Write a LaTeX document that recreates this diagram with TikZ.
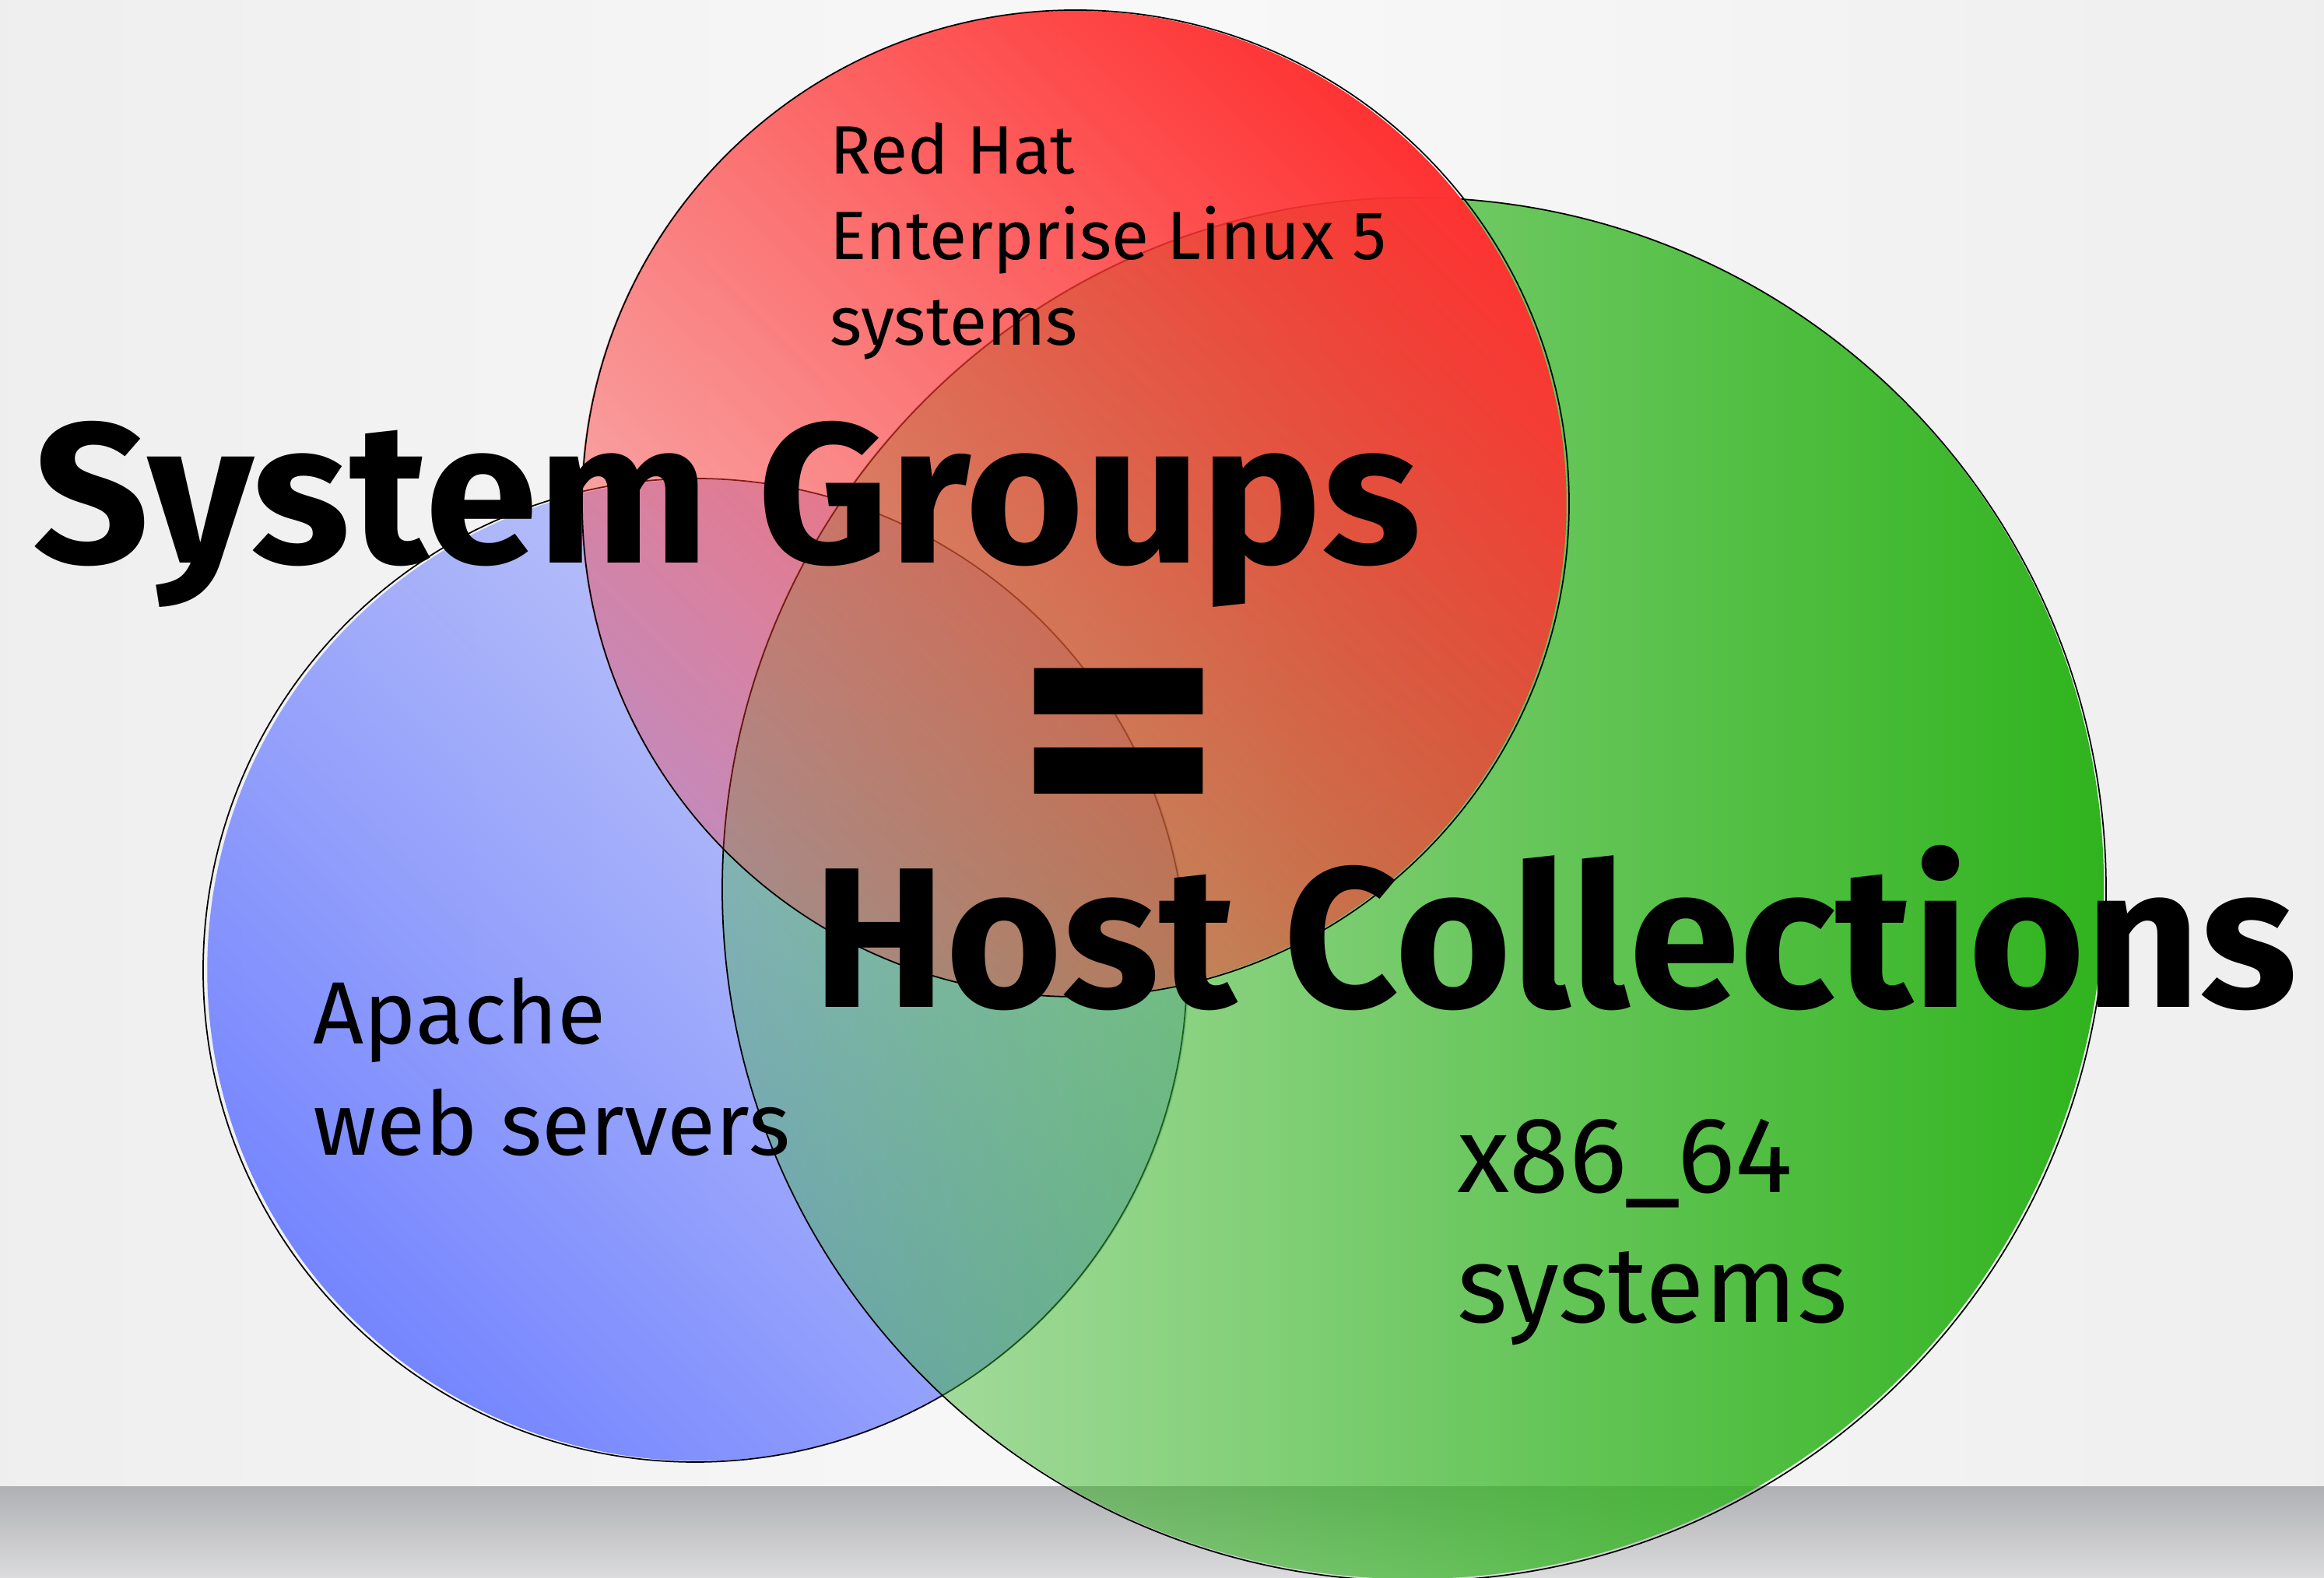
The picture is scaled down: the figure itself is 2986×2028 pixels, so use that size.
\documentclass[tikz,border=0pt]{standalone}
\usepackage{fontspec}
\setmainfont{Fira Sans}
\usetikzlibrary{fadings}

\definecolor{redset}{HTML}{FF3232}
\definecolor{blueset}{HTML}{7586FF}
\definecolor{greenset}{HTML}{30B41E}
\definecolor{bandtop}{HTML}{B0B1B4}
\definecolor{bandbot}{HTML}{DCDCDE}
\definecolor{paper}{HTML}{F4F4F4}

% strong at one side, see-through at the other
\tikzfading[name=setfade, top color=transparent!0, bottom color=transparent!68]

\tikzset{
  venn/.style={path fading=setfade, fit fading=true},
  rim/.style={draw=black, line width=0.5pt},
  bigtext/.style={anchor=base west, inner sep=0pt, font=\bfseries\fontsize{73}{80}\selectfont},
  settext/.style={anchor=base west, inner sep=0pt, align=left}
}

\begin{document}
\begin{tikzpicture}[x=0.01cm, y=0.01cm]
  \useasboundingbox (0,0) rectangle (2986,2028);

  % background and bottom band
  \shade[left color=gray!13, right color=gray!13, middle color=paper!60!white] (0,0) rectangle (2986,2028);
  \shade[top color=bandtop, bottom color=bandbot] (0,0) rectangle (2986,117);

  % the three sets
  \fill[venn, blueset, fading angle=135] (893,781) circle (632);
  \draw[rim] (893,781) circle (632);
  \fill[venn, greenset, fading angle=-90] (1817,885) circle (889);
  \draw[rim] (1817,885) circle (889);
  \fill[venn, redset, fading angle=-45] (1382,1381) circle (634);
  \draw[rim] (1382,1381) circle (634);

  % set labels
  \node[settext, font=\fontsize{25}{31.3}\selectfont] (rhel) at (1066,1584)
    {Red Hat\\Enterprise Linux 5\\systems};
  \node[settext, font=\fontsize{32.3}{40.7}\selectfont] (apache) at (402,543)
    {Apache\\web servers};
  \node[settext, font=\fontsize{39.4}{47.5}\selectfont] (arch) at (1872,328)
    {x86\_64\\systems};

  % headline
  \node[bigtext, xscale=1.02] (sg) at (42,1304) {System Groups};
  \node[bigtext, anchor=center, xscale=2.0, yscale=1.9] (eq) at (1438,1048) {=};
  \node[bigtext] (hc) at (1044,733) {Host Collections};
\end{tikzpicture}
\end{document}
